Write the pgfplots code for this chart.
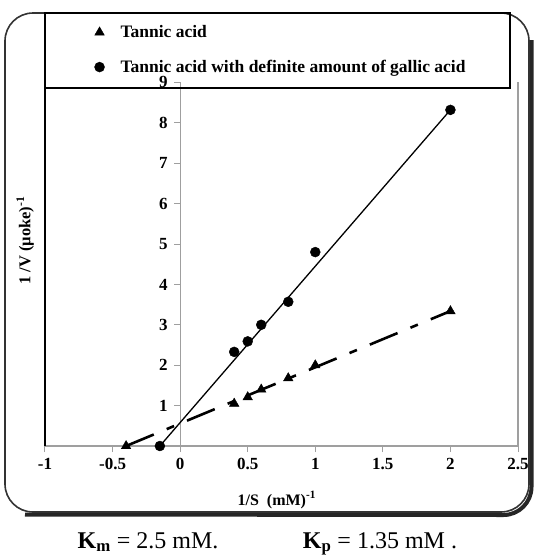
\documentclass[border=0pt]{standalone}
\usepackage{fontspec}
\setmainfont{Liberation Serif}
\usepackage{pgfplots}
\pgfplotsset{compat=1.18}
\begin{document}
\begin{tikzpicture}
\useasboundingbox (0pt,0pt) rectangle (534pt,-558pt);
% outer frame with shadow
\draw[line width=4pt, black!85] (531.5pt,-40pt) -- (531.5pt,-487pt) arc[start angle=0,end angle=-90,radius=28pt] -- (25pt,-514.5pt);
\draw[line width=1.6pt, black!80, rounded corners=28pt] (5pt,-13pt) rectangle (529pt,-512pt);
\begin{axis}[
  at={(45pt,-446pt)}, anchor=south west,
  scale only axis, width=473pt, height=363.6pt,
  xmin=-1, xmax=2.5, ymin=0, ymax=9,
  axis x line=bottom, axis y line=middle,
  axis line style={gray!75, line width=1.2pt, -},
  xtick={-1,-0.5,0,0.5,1,1.5,2,2.5},
  xticklabels={-1,-0.5,0,0.5,1,1.5,2,2.5},
  ytick={0,1,2,3,4,5,6,7,8,9},
  yticklabels={,1,2,3,4,5,6,7,8,9},
  tick align=outside, major tick length=6pt,
  tick style={gray!75, line width=1pt},
  ticklabel style={font=\fontsize{17}{17}\selectfont\bfseries},
  xticklabel style={yshift=-3pt},
  yticklabel style={xshift=-3pt},
  every axis x label/.style={at={(axis description cs:0.49,0)}, anchor=center, yshift=-54pt, font=\fontsize{16}{16}\selectfont\bfseries},
  every axis y label/.style={at={(axis description cs:-0.042,0.565)}, anchor=center, rotate=90, font=\fontsize{16.5}{16.5}\selectfont\bfseries},
  xlabel={1/S\ \ (mM)\textsuperscript{-1}},
  ylabel={1 /V (µoke)\textsuperscript{-1}},
  legend cell align=left,
  legend style={draw=none, fill=none, at={(axis description cs:0.098,1.168)}, anchor=north west,
    font=\fontsize{17.5}{17.5}\selectfont\bfseries, row sep=17pt,
    /tikz/every odd column/.append style={column sep=14pt}},
  clip=false,
]
\draw[black, line width=1.5pt] (rel axis cs:0,0) -- (rel axis cs:0,1);
\draw[gray!75, line width=1.5pt] (rel axis cs:1,0) -- (rel axis cs:1,1);
\addplot[black, line width=1.3pt, forget plot] coordinates {(-0.15,0) (2,8.32)};
\addplot[black, line width=2.6pt, dash pattern=on 30pt off 14pt on 8pt off 14pt, forget plot] coordinates {(-0.4,0) (2,3.34)};
\addplot[only marks, mark=triangle*, mark size=5.5pt, black] coordinates {(-0.4,0) (0.4,1.05) (0.5,1.21) (0.6,1.4) (0.8,1.68) (1,2.0) (2,3.34)};
\addlegendentry{Tannic acid}
\addplot[only marks, mark=*, mark size=5pt, black] coordinates {(-0.15,0) (0.4,2.33) (0.5,2.59) (0.6,3.0) (0.8,3.57) (1,4.8) (2,8.32)};
\addlegendentry{Tannic acid with definite amount of gallic acid}
\end{axis}
\draw[line width=1.8pt] (45pt,-13pt) rectangle (510pt,-88pt);
\node[font=\fontsize{24}{24}\selectfont, anchor=base, inner sep=0pt] at (148pt,-548pt) {\textbf{K\textsubscript{m}} = 2.5 mM.};
\node[font=\fontsize{24}{24}\selectfont, anchor=base, inner sep=0pt] at (380pt,-548pt) {\textbf{K\textsubscript{p}} = 1.35 mM .};
\end{tikzpicture}
\end{document}
